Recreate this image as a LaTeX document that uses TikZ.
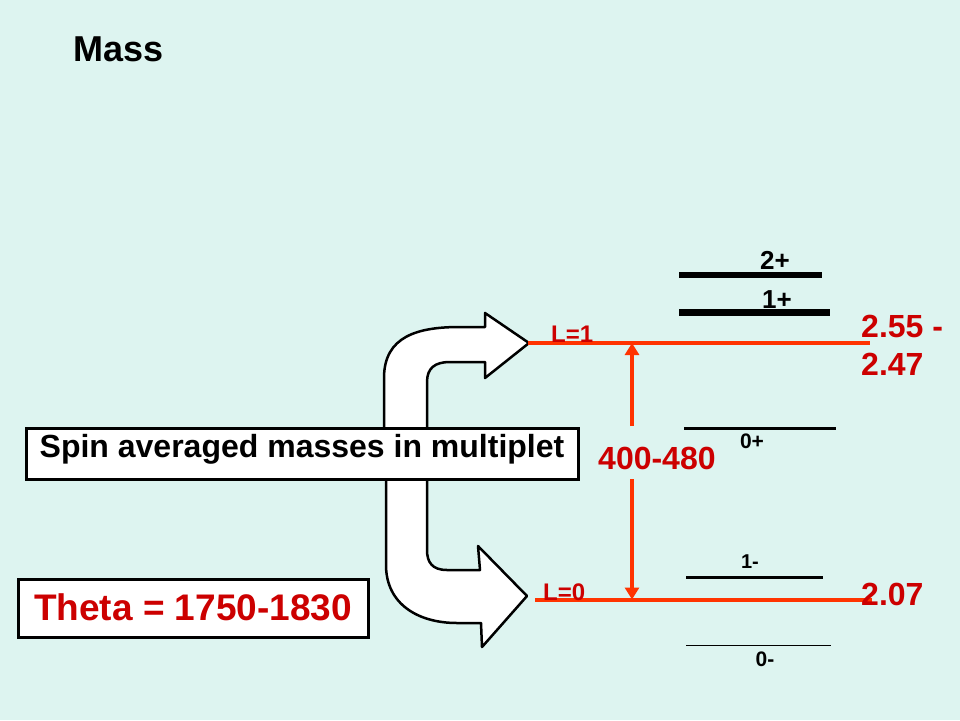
\documentclass[tikz,border=0pt]{standalone}
\usepackage{fontspec}
\setmainfont{Liberation Sans}
\usetikzlibrary{arrows.meta}
\definecolor{bgc}{RGB}{221,244,240}
\definecolor{txtred}{RGB}{204,0,0}
\definecolor{linered}{RGB}{255,51,0}
\tikzset{
  fs/.style={font=\fontsize{#1}{#1}\selectfont\bfseries},
  fsr/.style={font=\fontsize{#1}{#1}\selectfont},
  lbl/.style={inner sep=0pt},
  bigarrow/.style={fill=white, draw=black, line width=2.5pt, line join=round},
  levelline/.style={draw=linered, line width=4pt},
  statebar/.style={draw=black, line width=#1},
  gaparrow/.style={draw=linered, line width=3.5pt, -{Triangle[width=14pt,length=12pt]}},
  textbox/.style={draw=black, fill=white, line width=3pt, inner sep=0pt}
}
\begin{document}
\begin{tikzpicture}[x=1pt,y=-1pt]
\fill[bgc] (0,0) rectangle (960,720);
\useasboundingbox (0,0) rectangle (960,720);

% title
\node[lbl, fs=36, anchor=base west] (title) at (73,61) {Mass};

% curved arrows
\draw[bigarrow] (384,450) -- (384,378) .. controls (384,336) and (418,327) .. (460,327)
  -- (485,327) -- (485,313) -- (529,343) -- (485,378) -- (485,362) -- (450,362)
  .. controls (435,362) and (427,368) .. (427,382) -- (427,450) -- cycle;
\draw[bigarrow] (386,460) -- (386,565) .. controls (386,604) and (418,623) .. (457,623)
  -- (481,623) -- (482,647) -- (527,596) -- (478,546) -- (480,570) -- (447,570)
  .. controls (432,570) and (427,562) .. (427,550) -- (427,460) -- cycle;

% spin averaged box
\node[textbox, fs=32, minimum width=552pt, minimum height=51pt, text height=14pt, text depth=7pt]
  (spin) at (302,453.5) {Spin averaged masses in multiplet};

% theta box
\node[textbox, fs=37, text=txtred, minimum width=350pt, minimum height=58pt, text height=24pt, text depth=0pt]
  (theta) at (193,608) {Theta = 1750-1830};

% state bars
\coordinate (b2a) at (679,275); \coordinate (b2b) at (822,275);
\coordinate (b1a) at (679,312.5); \coordinate (b1b) at (830,312.5);
\coordinate (b0pa) at (684,428.5); \coordinate (b0pb) at (836,428.5);
\coordinate (b1ma) at (686,577.5); \coordinate (b1mb) at (823,577.5);
\coordinate (b0ma) at (686,645); \coordinate (b0mb) at (831,645);
\draw[statebar=6.5pt] (b2a) -- (b2b);
\draw[statebar=6.5pt] (b1a) -- (b1b);
\draw[statebar=2.5pt] (b0pa) -- (b0pb);
\draw[statebar=3pt] (b1ma) -- (b1mb);
\draw[statebar=1pt] (b0ma) -- (b0mb);

\node[lbl, fs=26, anchor=base] (s2p) at (775,269) {2+};
\node[lbl, fs=26, anchor=base] (s1p) at (777,308) {1+};
\node[lbl, fs=21, anchor=base] (s0p) at (752,448) {0+};
\node[lbl, fs=20, anchor=base] (s1m) at (750,568) {1-};
\node[lbl, fs=21, anchor=base] (s0m) at (765,666) {0-};

% L levels
\coordinate (l1a) at (528,343); \coordinate (l1b) at (870,343);
\coordinate (l0a) at (535,599.5); \coordinate (l0b) at (872,599.5);
\draw[levelline] (l1a) -- (l1b);
\draw[levelline] (l0a) -- (l0b);
\node[lbl, fs=24, text=txtred, anchor=base west] (L1) at (551,342) {L=1};
\node[lbl, fs=24, text=txtred, anchor=base west] (L0) at (543,600) {L=0};

% gap arrow
\coordinate (gtop) at (632,426); \coordinate (gbot) at (632,479);
\coordinate (gl1) at (632,343); \coordinate (gl0) at (632,599.5);
\draw[gaparrow] (gtop) -- (gl1);
\draw[gaparrow] (gbot) -- (gl0);
\node[lbl, fs=32, text=txtred, anchor=base west] (gap) at (598,469) {400-480};

% mass values
\node[lbl, fs=32, text=txtred, anchor=base west] (m1a) at (861,337) {2.55 -};
\node[lbl, fs=32, text=txtred, anchor=base west] (m1b) at (861,375) {2.47};
\node[lbl, fs=32, text=txtred, anchor=base west] (m0) at (861,605) {2.07};
\end{tikzpicture}
\end{document}
